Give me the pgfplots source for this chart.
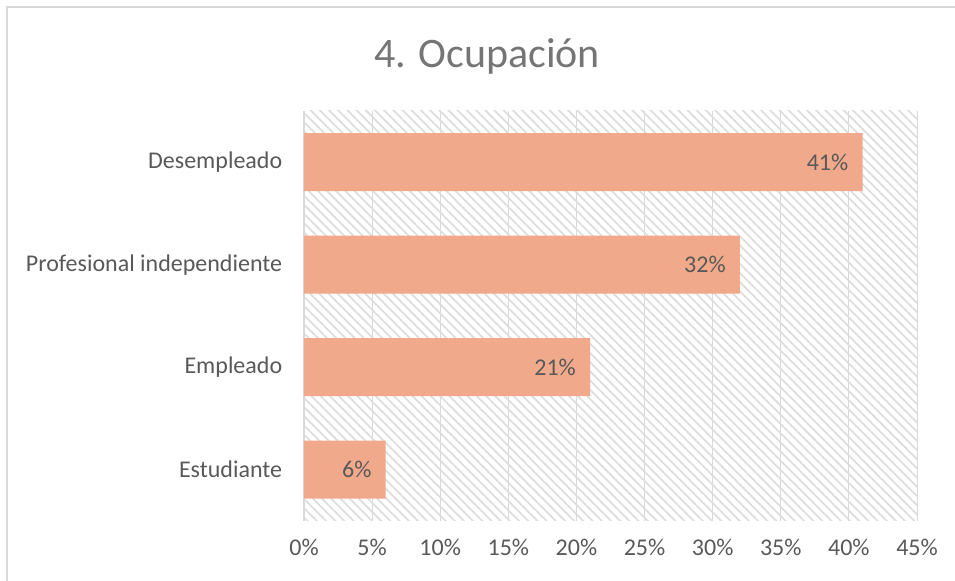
\documentclass[border=0pt]{standalone}
\usepackage{pgfplots}
\pgfplotsset{compat=1.18}
\usetikzlibrary{patterns.meta}
\usepackage{fontspec}
\setmainfont{Carlito}

\definecolor{barfill}{HTML}{F0A98A}
\definecolor{gridgray}{HTML}{D9D9D9}
\definecolor{labelgray}{HTML}{595959}
\definecolor{titlegray}{HTML}{757575}
\definecolor{hatch}{HTML}{DEDEDE}

\begin{document}
\begin{tikzpicture}
% page: 955x581 bp, plot area lower left at image (304,521)
\useasboundingbox (-304bp,-60bp) rectangle (651bp,521bp);
\draw[gridgray, line width=1.2bp] (-297bp,-60bp) -- (-297bp,514bp) -- (651bp,514bp);
\begin{axis}[
    at={(0,0)}, anchor=south west,
    scale only axis,
    width=613bp, height=410bp,
    xbar, bar width=58bp,
    xmin=0, xmax=45,
    ymin=-0.5, ymax=3.5,
    xtick={0,5,...,45},
    xticklabel={\pgfmathprintnumber{\tick}\%},
    ytick={0,1,2,3},
    yticklabels={Estudiante,Empleado,Profesional independiente,Desempleado},
    axis line style={draw=none},
    tick style={draw=none},
    xmajorgrids, major grid style={gridgray, line width=1bp},
    ticklabel style={font=\fontsize{24bp}{28bp}\selectfont, text=labelgray},
    /pgf/number format/assume math mode=true,
    xticklabel style={yshift=-15bp},
    yticklabel style={xshift=-14bp},
    nodes near coords={\pgfmathprintnumber{\pgfplotspointmeta}\%},
    every node near coord/.append style={anchor=east, inner sep=0pt, xshift=-14bp,
        font=\fontsize{24bp}{28bp}\selectfont, text=labelgray},
    clip=false,
]
\fill[pattern={Lines[angle=-45,distance=6.5bp,line width=1.8bp]}, pattern color=hatch]
    (axis cs:0,-0.5) rectangle (axis cs:45,3.5);
\draw[gridgray, line width=1.5bp] (axis cs:0,-0.5) -- (axis cs:0,3.5);
\addplot[fill=barfill, draw=none] coordinates {(6,0) (21,1) (32,2) (41,3)};
\end{axis}
\node[text=titlegray, font=\fontsize{42bp}{48bp}\selectfont] at (183bp,465bp) {4. Ocupación};
\end{tikzpicture}
\end{document}
